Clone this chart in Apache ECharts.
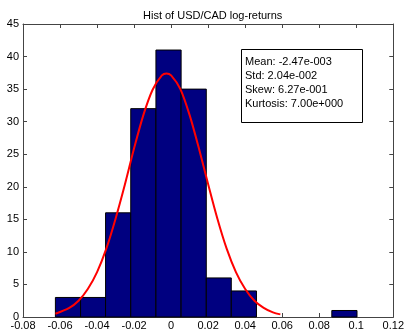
<!DOCTYPE html>
<html>
<head>
<meta charset="utf-8">
<title>Hist of USD/CAD log-returns</title>
<script src="https://cdn.jsdelivr.net/npm/echarts@6/dist/echarts.min.js"></script>
<style>
  html, body { margin: 0; padding: 0; background: #fff; }
  #chart { width: 407px; height: 332px; }
</style>
</head>
<body>
<div id="chart"></div>
<script>
// histogram bins (edges) and counts
const binEdges = [-0.0625, -0.0489, -0.0354, -0.0218, -0.0082, 0.0054, 0.0190, 0.0325, 0.0461, 0.0597, 0.0733, 0.0868, 0.1004];
const binCounts = [3, 3, 16, 32, 41, 35, 6, 4, 0, 0, 0, 1];

// fitted normal curve
const fitX = [-0.0625, -0.055, -0.05, -0.045, -0.04, -0.035, -0.03, -0.025, -0.02, -0.015, -0.01, -0.005, -0.0025, 0, 0.005, 0.01, 0.015, 0.02, 0.025, 0.03, 0.035, 0.04, 0.045, 0.05, 0.055, 0.059];
const fitY = [0.5, 1.4, 2.5, 4.3, 6.9, 10.5, 15.1, 20.3, 25.9, 31.0, 34.9, 37.1, 37.4, 37.1, 35.0, 31.0, 25.9, 20.4, 15.1, 10.5, 6.9, 4.3, 2.5, 1.4, 0.7, 0.4];

// summary stats shown in the box
const statLines = ['Mean: -2.47e-003', 'Std: 2.04e-002', 'Skew: 6.27e-001', 'Kurtosis: 7.00e+000'];

const xMin = -0.08, xMax = 0.12, xStep = 0.02;
const yMin = 0, yMax = 45, yStep = 5;

const font = 'Liberation Sans, Arial, sans-serif';
const axisColor = '#444';

let myChart = echarts.init(document.getElementById('chart'), null, { renderer: 'canvas' });

function axisBase() {
	return {
		type: 'value',
		axisLine: { show: true, onZero: false, lineStyle: { color: axisColor, width: 1 } },
		axisTick: { show: true, inside: true, length: 4, lineStyle: { color: axisColor } },
		splitLine: { show: false },
		axisLabel: { color: '#000', fontSize: 11, fontFamily: font },
	};
}

let option = {
	backgroundColor: '#fff',
	animation: false,
	title: {
		text: 'Hist of USD/CAD log-returns',
		left: 138,
		top: 5,
		textStyle: { fontSize: 11, fontWeight: 'normal', color: '#000', fontFamily: font },
	},
	grid: { left: 23, right: 11, top: 24, bottom: 15 },
	xAxis: [
		Object.assign(axisBase(), {
			min: xMin, max: xMax, interval: xStep,
			axisLabel: { color: '#000', fontSize: 11, fontFamily: font, margin: 3 },
		}),
		Object.assign(axisBase(), {
			position: 'top', min: xMin, max: xMax, interval: xStep,
			axisLabel: { show: false },
		}),
	],
	yAxis: [
		Object.assign(axisBase(), {
			min: yMin, max: yMax, interval: yStep,
			axisLabel: { color: '#000', fontSize: 11, fontFamily: font, margin: 4 },
		}),
		Object.assign(axisBase(), {
			position: 'right', min: yMin, max: yMax, interval: yStep,
			axisLabel: { show: false },
		}),
	],
	series: [
		{
			type: 'custom',
			xAxisIndex: 0,
			yAxisIndex: 0,
			data: binCounts.map((c, i) => [binEdges[i], binEdges[i + 1], c]),
			encode: { x: [0, 1], y: 2 },
			renderItem: function (params, api) {
				let c = api.value(2);
				if (!c) return null;
				let p0 = api.coord([api.value(0), c]);
				let p1 = api.coord([api.value(1), 0]);
				return {
					type: 'rect',
					shape: { x: p0[0], y: p0[1], width: p1[0] - p0[0], height: p1[1] - p0[1] },
					style: { fill: '#000080', stroke: '#000', lineWidth: 1 },
				};
			},
			z: 2,
		},
		{
			type: 'line',
			xAxisIndex: 0,
			yAxisIndex: 0,
			smooth: 0.3,
			showSymbol: false,
			data: fitX.map((x, i) => [x, fitY[i]]),
			lineStyle: { color: '#ff0000', width: 2 },
			z: 3,
		},
	],
	graphic: [
		{
			type: 'rect',
			left: 241,
			top: 49,
			shape: { width: 121, height: 73 },
			style: { fill: '#fff', stroke: '#000', lineWidth: 1 },
			z: 10,
		},
		{
			type: 'text',
			left: 245,
			top: 55,
			style: {
				text: statLines.join('\n'),
				fontSize: 11,
				fontFamily: font,
				lineHeight: 14,
				fill: '#000',
			},
			z: 11,
		},
	],
};

myChart.setOption(option);
</script>
</body>
</html>
